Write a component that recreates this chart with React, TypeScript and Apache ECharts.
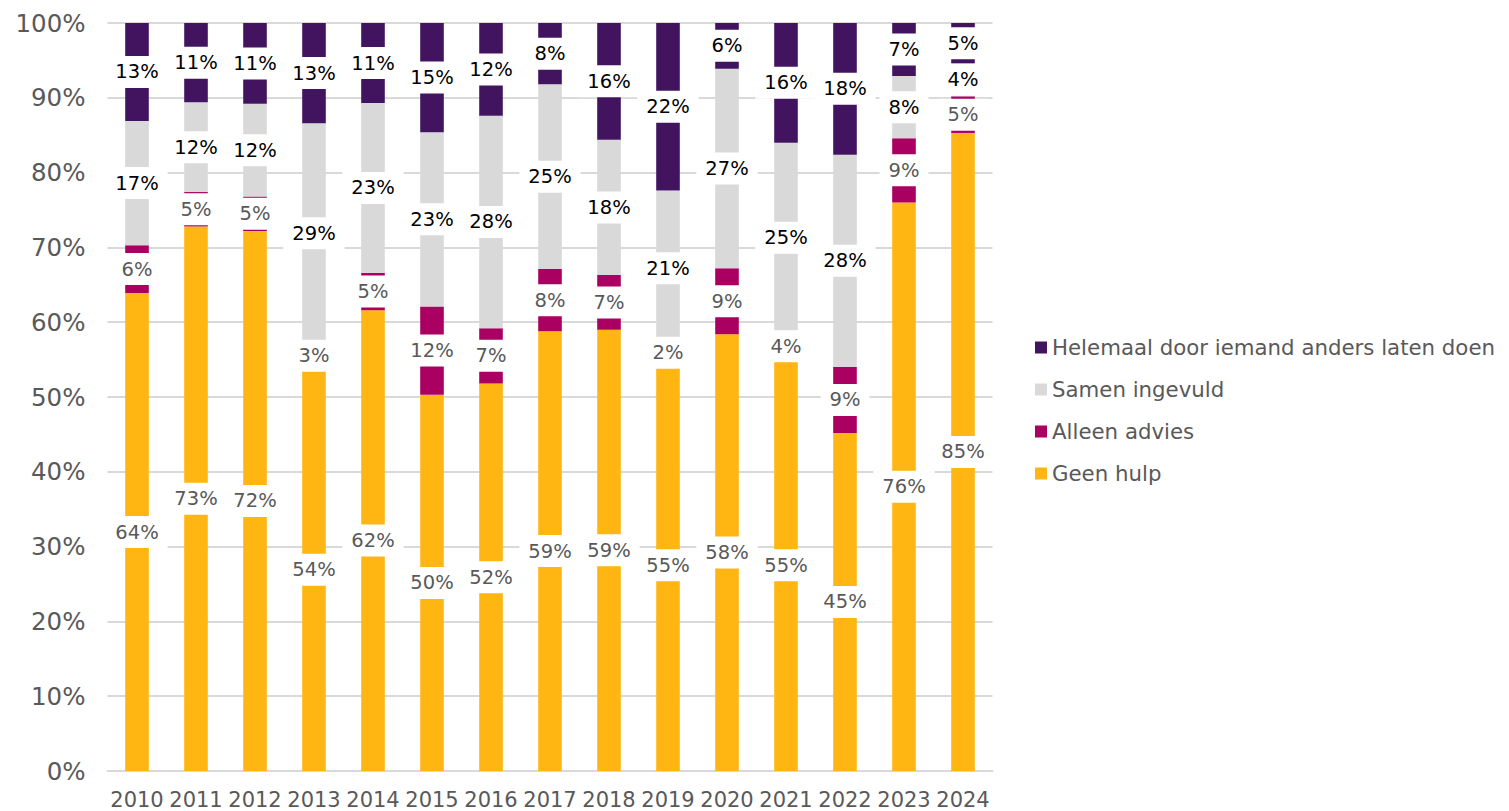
import React, { useEffect, useRef } from "react";
import * as echarts from "echarts";

const years = ["2010", "2011", "2012", "2013", "2014", "2015", "2016", "2017", "2018", "2019", "2020", "2021", "2022", "2023", "2024"];
const geenHulp = [63.9, 72.8, 72.2, 53.8, 61.6, 50.3, 51.8, 58.8, 59.0, 55.0, 58.4, 55.0, 45.2, 76.0, 85.3];
const alleenAdvies = [6.4, 4.6, 4.6, 3.4, 5.0, 11.8, 7.4, 8.3, 7.3, 1.8, 8.8, 3.6, 8.8, 8.6, 4.9];
const samenIngevuld = [16.6, 12.0, 12.4, 29.4, 22.7, 23.3, 28.4, 24.7, 18.1, 20.8, 26.7, 25.4, 28.4, 8.3, 4.4];
const helemaalAnders = [13.1, 10.6, 10.8, 13.4, 10.7, 14.6, 12.4, 8.2, 15.6, 22.4, 6.1, 16.0, 17.6, 7.1, 5.4];

const seriesNames = ["Geen hulp", "Alleen advies", "Samen ingevuld", "Helemaal door iemand anders laten doen"];
const seriesColors = ["#FFB612", "#A90061", "#D9D9D9", "#42145F"];
const labelColors = ["#595959", "#595959", "#000000", "#000000"];

const FONT = "DejaVu Sans";

export default function App() {
  const ref = useRef<HTMLDivElement>(null);
  useEffect(() => {
    if (!ref.current) return;
    const chart = echarts.init(ref.current, null, { renderer: "svg" });
    const allData = [geenHulp, alleenAdvies, samenIngevuld, helemaalAnders];
    const series = allData.map((d, i) => ({
      name: seriesNames[i],
      type: "bar",
      stack: "total",
      barWidth: "40%",
      data: d,
      itemStyle: { color: seriesColors[i] },
      label: {
        show: true,
        position: "inside",
        formatter: (p: any) => Math.round(p.value) + "%",
        color: labelColors[i],
        fontFamily: FONT,
        fontSize: 19.5,
        lineHeight: 19,
        backgroundColor: "#FFFFFF",
        padding: [6.5, 9],
      },
      emphasis: { disabled: true },
    }));
    chart.setOption({
      animation: false,
      textStyle: { fontFamily: FONT },
      grid: { left: 107.5, right: 516.5, top: 23, bottom: 40, containLabel: false },
      legend: {
        orient: "vertical",
        left: 1035,
        top: 337,
        padding: 0,
        itemWidth: 12,
        itemHeight: 12,
        itemGap: 21,
        icon: "rect",
        data: [seriesNames[3], seriesNames[2], seriesNames[1], seriesNames[0]],
        textStyle: { color: "#595959", fontSize: 21.3, fontFamily: FONT, lineHeight: 20 },
      },
      xAxis: {
        type: "category",
        data: years,
        axisLine: { show: true, lineStyle: { color: "#D9D9D9", width: 2 } },
        axisTick: { show: false },
        axisLabel: { color: "#595959", fontSize: 21, fontFamily: FONT, margin: 18, interval: 0 },
      },
      yAxis: {
        type: "value",
        min: 0,
        max: 100,
        interval: 10,
        axisLine: { show: false },
        axisTick: { show: false },
        axisLabel: { color: "#595959", fontSize: 24.5, fontFamily: FONT, margin: 22, formatter: "{value}%" },
        splitLine: { lineStyle: { color: "#D9D9D9", width: 2 } },
      },
      series,
    });
    return () => chart.dispose();
  }, []);
  return <div ref={ref} style={{ position: "absolute", left: 0, top: 0, width: 1509, height: 811 }} />;
}
